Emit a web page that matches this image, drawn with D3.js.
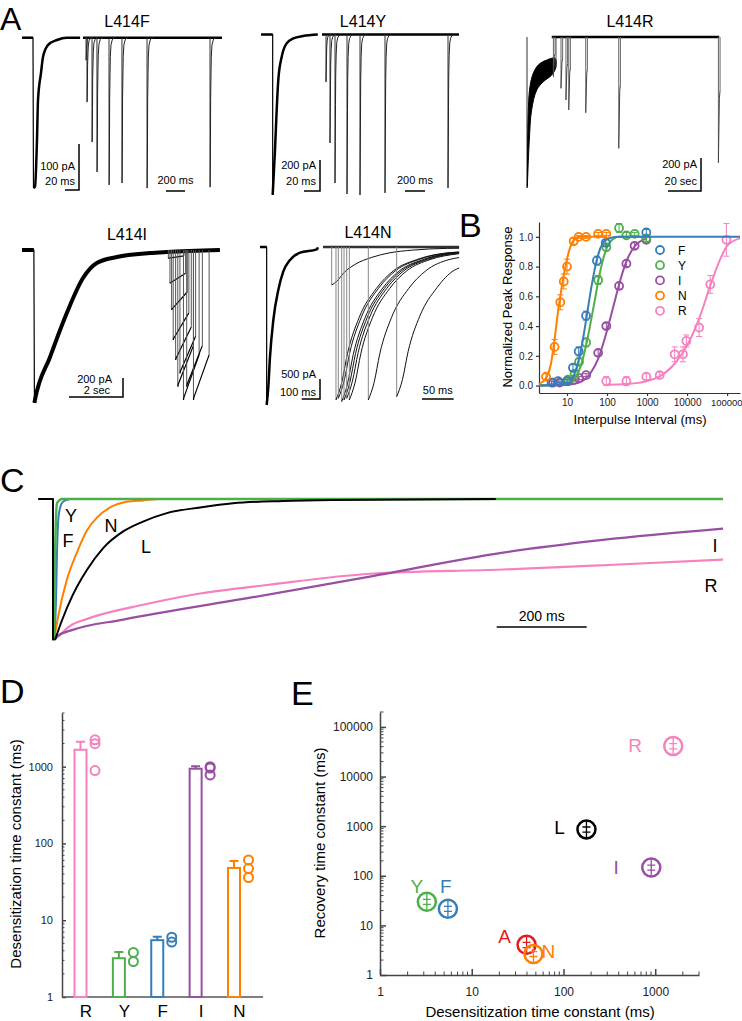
<!DOCTYPE html>
<html>
<head>
<meta charset="utf-8">
<script src="https://cdn.jsdelivr.net/npm/d3@7"></script>
<style>
  body { margin: 0; background: #fff; }
  svg { display: block; }
</style>
</head>
<body>
<svg id="fig" width="742" height="1021"></svg>
<script>
// ---- panel A: sweeps, read through each recording's scale bars (time, current in pA) ----
const fDesens = [[0,0],[15.7,0],[16.4,-327],[18.6,-324],[21.4,-222],[22.9,-135],[27.1,-77],[30,-42],[37,-16],[50,-5],[64,0],[83,0]];
const fPulses = [[32,-49],[42,-140],[95,-227],[147,-292],[274,-320],[410,-316],[674,-327],[1337,-325]];
const yDesens = [[0,0],[14.6,0],[14.6,-1035],[17.5,-745],[19.6,-487],[21.6,-294],[25.9,-143],[32.1,-57],[40.4,-25],[52.5,-10],[71,0]];
const yPulses = [[40,-306],[80,-700],[130,-958],[250,-1029],[380,-1035],[630,-1022],[1260,-990]];
const rUpper = [[0.2,-907],[0.8,-442],[1.8,-301],[3.8,-220],[6.8,-170],[10.9,-144],[17,-129]];
const rLower = [[0.2,-907],[1.4,-624],[2.8,-442],[5.9,-321],[9.9,-271],[15,-230],[17.6,-180]];
const rPulses = [[16,-240],[20.6,-311],[23.6,-382],[25.3,-442],[35.6,-459],[55.6,-675],[116,-762]];
const iDesens = [[0,0],[0.44,0],[0.46,-1610],[0.48,-1579],[1.04,-1126],[1.66,-663],[2.26,-295],[2.77,-137],[3.51,-74],[4.74,-32],[5.36,-21],[7.33,0]];
const iPulses = [[5.42,-88],[5.48,-351],[5.54,-632],[5.60,-947],[5.69,-1158],[5.77,-1439],[5.85,-1298],[5.98,-1579],[6.10,-1439],[6.35,-1579]];
const iSweepLen = 0.58;
const nDesens = [[0,0],[36.4,0],[36.4,-3950],[45.5,-3500],[54.6,-2750],[72.9,-1825],[100,-1075],[127,-617],[164,-325],[219,-142],[310,-58],[317,-10]];
const nPulses = [[13.7,-950],[20.5,-3825],[24.2,-3783],[29.5,-3867],[33.2,-3825],[37.4,-3783],[41.6,-3825],[71.6,-3825],[116.4,-3742]];

// ---- panel B: recovery from desensitization (interval ms, normalized peak, sem) ----
const bF = [[4.1,0.02,0.01],[6,0.03,0.01],[10,0.03,0.01],[14.1,0.12,0.02],[19.6,0.23,0.03],[30,0.47,0.03],[56,0.84,0.03],[93,0.96,0.02],[960,1.03,0.02]];
const bY = [[10.6,0.04,0.01],[15.5,0.08,0.01],[20,0.16,0.02],[30,0.29,0.03],[60,0.71,0.03],[96,0.93,0.02],[200,1.06,0.03],[305,1.01,0.02],[490,1.02,0.01],[960,0.99,0.02]];
const bI = [[4.5,0.02,0.01],[6.6,0.02,0.01],[10.6,0.03,0.01],[15.5,0.04,0.01],[20,0.05,0.01],[30,0.07,0.01],[60,0.22,0.02],[96,0.40,0.02],[200,0.67,0.02],[305,0.82,0.02],[490,0.94,0.02],[960,0.98,0.02]];
const bN = [[3.0,0.06,0.02],[4.9,0.26,0.05],[6.8,0.56,0.05],[8.3,0.70,0.05],[10,0.80,0.05],[14.7,0.97,0.02],[19.6,1.0,0.01],[30,1.0,0.01],[60,1.02,0.01],[96,1.02,0.01]];
const bR = [[96,0.03,0.03],[305,0.03,0.03],[960,0.06,0.02],[2070,0.07,0.02],[4900,0.21,0.05],[7900,0.21,0.05],[9600,0.30,0.04],[20000,0.39,0.06],[38000,0.68,0.06],[96000,0.98,0.11]];
const fitF = [[2,0],[10,0.01],[15,0.07],[20,0.18],[25,0.31],[30,0.44],[40,0.65],[50,0.79],[60,0.88],[80,0.96],[100,0.985],[200,1.0],[210000,1.0]];
const fitY = [[2,0],[10,0.01],[15,0.04],[20,0.1],[30,0.27],[40,0.44],[50,0.58],[60,0.7],[80,0.85],[100,0.93],[150,0.99],[200,1.0],[1000,1.0]];
const fitI = [[2,0],[10,0.005],[20,0.02],[40,0.09],[60,0.18],[80,0.28],[100,0.37],[150,0.55],[200,0.68],[300,0.83],[500,0.94],[1000,0.99]];
const fitN = [[2,0.01],[3,0.05],[4,0.15],[5,0.33],[6,0.5],[7,0.62],[8,0.72],[10,0.85],[12,0.93],[15,0.98],[20,1.0],[30,1.0],[100,1.0]];
const fitR = [[100,0.005],[300,0.01],[1000,0.03],[2000,0.06],[5000,0.15],[10000,0.27],[20000,0.45],[40000,0.69],[70000,0.86],[100000,0.94],[210000,0.99]];

// ---- panel C: normalized currents (ms, I/Ipeak) ----
const cL = [[-33,0],[0,0],[0,-1],[4.4,-1],[20,-0.86],[44,-0.68],[76,-0.50],[111,-0.35],[156,-0.23],[200,-0.16],[253,-0.10],[327,-0.06],[400,-0.03],[511,-0.014],[622,-0.007],[984,0]];
const cY = [[0,0],[2.2,-1],[4.4,-0.43],[8.9,-0.03],[20,0],[1489,0]];
const cF = [[2.2,-1],[6.7,-0.72],[8.9,-0.38],[13.3,-0.1],[22,-0.02],[38,0]];
const cN = [[2.2,-1],[11,-0.84],[31,-0.57],[53,-0.38],[76,-0.22],[98,-0.13],[127,-0.06],[164,-0.02],[200,-0.01],[238,0],[300,0]];
const cI = [[2.2,-1],[11,-0.97],[42,-0.93],[156,-0.855],[438,-0.70],[704,-0.55],[1000,-0.38],[1222,-0.29],[1489,-0.21]];
const cR = [[2.2,-1],[20,-0.95],[38,-0.90],[76,-0.85],[200,-0.75],[327,-0.67],[476,-0.61],[704,-0.53],[1000,-0.50],[1222,-0.47],[1489,-0.43]];

// ---- panel D: desensitization tau (ms) ----
const dCats = ['R','Y','F','I','N'];
const dMean = [1660, 3.2, 5.5, 940, 48];
const dSem = [450, 0.65, 0.6, 75, 11];
const dCells = [[2240,1990,890],[3.8,2.9],[6.0,5.2],[1000,960,780],[61,47,36]];

// ---- panel E: recovery tau vs desensitization tau (ms) ----
const eKeys = ['R','L','I','Y','F','A','N'];
const eDes = [1570, 178, 905, 3.24, 5.5, 39.6, 47];
const eRec = [41200, 861, 147, 30, 21.7, 4.05, 2.66];
const eRecSem = [5000, 100, 17, 3.5, 2.5, 0.5, 0.3];

const COL = {R:'#f781bf', Y:'#4daf4a', F:'#377eb8', I:'#984ea3', N:'#ff7f00', A:'#e41a1c', L:'#000000'};
const FONT = '"Liberation Sans", Arial, sans-serif';
const svg = d3.select('#fig');

function text(x, y, s, size, o = {}) {
  return svg.append('text').attr('x', x).attr('y', y).text(s)
    .attr('font-family', FONT).attr('font-size', size)
    .attr('text-anchor', o.anchor || 'start').attr('fill', o.color || '#000')
    .attr('transform', o.rotate ? `rotate(-90,${x},${y})` : null);
}
function draw(g, pts, sx, sy, w, col, curve) {
  return g.append('path')
    .attr('d', d3.line().x(d => sx(d[0])).y(d => sy(d[1])).curve(curve || d3.curveLinear)(pts))
    .attr('fill', 'none').attr('stroke', col || '#000').attr('stroke-width', w)
    .attr('stroke-linejoin', 'round');
}
// local (time, pA) frame: kx px per time unit, ky px per pA
function frame(x0, y0, kx, ky) {
  return {x: d3.scaleLinear().domain([0, 1]).range([x0, x0 + kx]),
          y: d3.scaleLinear().domain([0, -1]).range([y0, y0 + ky])};
}
function shapeOf(desens) {
  const k = d3.minIndex(desens, d => d[1]);
  const [tp, ip] = desens[k];
  return desens.slice(k).map(d => [d[0] - tp, d[1] / ip]);
}
function shapeAt(shape, dt) {
  for (let i = 1; i < shape.length; i++) {
    if (shape[i][0] >= dt) {
      const a = shape[i - 1], b = shape[i];
      return a[1] + (b[1] - a[1]) * (dt - a[0]) / (b[0] - a[0] || 1);
    }
  }
  return shape[shape.length - 1][1];
}
// one recovery sweep: vertical activation then the desensitization decay
function pulse(g, fr, t0, amp, shape, opt) {
  const lim = Math.min(opt.dur ?? Infinity, opt.tEnd - t0, shape[shape.length - 1][0]);
  const decay = shape.filter(d => d[0] < lim).map(d => [t0 + d[0], amp * d[1]]);
  decay.push([t0 + lim, amp * shapeAt(shape, lim)]);
  draw(g, [[t0, 0], [t0, amp]], fr.x, fr.y, opt.wDrop || 1, opt.cDrop || '#333');
  draw(g, decay, fr.x, fr.y, opt.w || 1, opt.col || '#222', opt.curve);
  if (opt.dur != null || lim === shape[shape.length - 1][0]) {
    draw(g, [decay[decay.length - 1], [t0 + lim, 0]], fr.x, fr.y, 1, opt.cDrop || '#333');
  }
}
function mainSweep(g, fr, pts, wThick) {
  const k = d3.minIndex(pts, d => d[1]);
  draw(g, pts.slice(0, k + 1), fr.x, fr.y, 1.2);
  draw(g, pts.slice(0, k), fr.x, fr.y, wThick);
  draw(g, pts.slice(k), fr.x, fr.y, wThick, '#000', d3.curveMonotoneX);
}
function lBar(g, fr, xr, yb, amp, dt) {
  const v = Math.abs(fr.y(-amp) - fr.y(0)), h = Math.abs(fr.x(dt) - fr.x(0));
  g.append('path').attr('d', `M${xr - h},${yb}H${xr}V${yb - v}`)
    .attr('fill', 'none').attr('stroke', '#000').attr('stroke-width', 1.5);
}
function hBar(g, fr, xl, yb, dt) {
  const h = Math.abs(fr.x(dt) - fr.x(0));
  g.append('path').attr('d', `M${xl},${yb}H${xl + h}`).attr('stroke', '#000').attr('stroke-width', 1.5);
  return xl + h / 2;
}

// panel letters
[['A', 0, 30, 32], ['B', 459, 237, 34], ['C', 0, 492, 34], ['D', 0, 703, 34], ['E', 291, 705, 34]]
  .forEach(([s, x, y, fs]) => text(x, y, s, fs));

// ================= panel A =================
const gA = svg.append('g');
// L414F
{
  const L = frame(22, 37.7, 0.7, 0.46), R = frame(83, 37.7, 0.095, 0.46);
  text(127, 27, 'L414F', 16, {anchor: 'middle'});
  mainSweep(gA, L, fDesens, 2.5);
  draw(gA, [[0, 0], [1463, 0]], R.x, R.y, 2.5);
  const sh = shapeOf(fDesens);
  fPulses.forEach(([t, a]) => pulse(gA, R, t, a, sh, {tEnd: 1463}));
  lBar(gA, L, 79, 190, 100, 20);
  text(75, 170, '100 pA', 11, {anchor: 'end'});
  text(75, 185, '20 ms', 11, {anchor: 'end'});
  const c = hBar(gA, R, 166, 191, 200);
  text(c, 184, '200 ms', 11, {anchor: 'middle'});
}
// L414Y
{
  const L = frame(261, 34.5, 0.8, 0.155), R = frame(322, 34.5, 0.1, 0.155);
  text(363, 27, 'L414Y', 16, {anchor: 'middle'});
  mainSweep(gA, L, yDesens, 2.5);
  draw(gA, [[0, 0], [1370, 0]], R.x, R.y, 2.5);
  const sh = shapeOf(yDesens);
  yPulses.forEach(([t, a]) => pulse(gA, R, t, a, sh, {tEnd: 1370}));
  lBar(gA, L, 320, 191, 200, 20);
  text(316, 169, '200 pA', 11, {anchor: 'end'});
  text(316, 185, '20 ms', 11, {anchor: 'end'});
  const c = hBar(gA, R, 405, 191, 200);
  text(c, 184, '200 ms', 11, {anchor: 'middle'});
}
// L414R
{
  const S = frame(527, 37, 1.65, 0.165);
  text(630, 27, 'L414R', 16, {anchor: 'middle'});
  draw(gA, [[0, 0], [0, -915], rUpper[0]], S.x, S.y, 1, '#333');
  gA.append('path')
    .attr('d', d3.line().x(d => S.x(d[0])).y(d => S.y(d[1])).curve(d3.curveCatmullRomClosed)(rUpper.concat(rLower.slice().reverse())))
    .attr('fill', '#000').attr('stroke', '#000').attr('stroke-width', 1);
  draw(gA, [rLower[rLower.length - 1], [17.6, 0]], S.x, S.y, 1, '#555');
  draw(gA, [[15, 0], [116.5, 0]], S.x, S.y, 2.5);
  const sh = shapeOf(rUpper);
  rPulses.forEach(([t, a]) => pulse(gA, S, t, a, sh, {tEnd: 117, dur: 1, cDrop: '#666', col: '#444'}));
  lBar(gA, S, 701, 191, 200, 20);
  text(697, 168, '200 pA', 11, {anchor: 'end'});
  text(697, 185, '20 sec', 11, {anchor: 'end'});
}
// L414I
{
  const S = frame(22, 250, 27, 0.095);
  text(127, 240, 'L414I', 16, {anchor: 'middle'});
  mainSweep(gA, S, iDesens, 4);
  const sh = shapeOf(iDesens);
  iPulses.forEach(([t, a]) => pulse(gA, S, t, a, sh, {tEnd: 7.33, dur: iSweepLen, w: 1.2, col: '#000', cDrop: '#555'}));
  lBar(gA, S, 123, 397, 200, 2);
  text(112, 383, '200 pA', 11, {anchor: 'end'});
  text(110, 394, '2 sec', 11, {anchor: 'end'});
}
// L414N
{
  const L = frame(260, 247, 0.183, 0.04), R = frame(323, 247, 0.633, 0.04);
  text(368, 238, 'L414N', 16, {anchor: 'middle'});
  mainSweep(gA, L, nDesens, 2.5);
  draw(gA, [[0, 0], [215, 0]], R.x, R.y, 2.5, '#333');
  const sh = shapeOf(nDesens);
  nPulses.forEach(([t, a]) => pulse(gA, R, t, a, sh, {tEnd: 215, cDrop: '#888', col: '#111', curve: d3.curveMonotoneX}));
  lBar(gA, L, 320, 399, 500, 100);
  text(316, 378, '500 pA', 11, {anchor: 'end'});
  text(316, 396, '100 ms', 11, {anchor: 'end'});
  const c = hBar(gA, R, 422, 399, 50);
  text(c, 394, '50 ms', 11, {anchor: 'middle'});
}

// ================= panel B =================
const gB = svg.append('g');
const xB = d3.scaleLog().domain([2, 2.1e5]).range([539, 740]);
const yB = d3.scaleLinear().domain([-0.05, 1.1]).range([393, 222]);
gB.append('g').attr('transform', 'translate(0,393)')
  .call(d3.axisBottom(xB).tickValues([10, 100, 1000, 10000, 100000]).tickFormat(d3.format('d')).tickSize(3).tickSizeOuter(0));
gB.append('g').attr('transform', 'translate(539,0)')
  .call(d3.axisLeft(yB).tickValues([0, 0.2, 0.4, 0.6, 0.8, 1.0]).tickFormat(d3.format('.1f')).tickSize(3).tickSizeOuter(0));
gB.selectAll('.tick text').attr('font-family', FONT).attr('font-size', 10).attr('fill', '#222');
gB.selectAll('.tick text').filter(d => d === 100000).attr('font-size', 9.5).attr('text-anchor', 'end').attr('dx', 15);
gB.selectAll('.domain, .tick line').attr('stroke', '#333').attr('stroke-width', 1.2);
const bSeries = [['F', bF, fitF], ['Y', bY, fitY], ['I', bI, fitI], ['N', bN, fitN], ['R', bR, fitR]];
[bSeries[4], bSeries[2], bSeries[1], bSeries[0], bSeries[3]].forEach(([k, pts, fit]) => {
  draw(gB, fit, xB, yB, 2, COL[k], d3.curveMonotoneX);
  pts.forEach(([x, y, e]) => {
    const cx = xB(x);
    gB.append('path').attr('d', `M${cx},${yB(y - e)}V${yB(y + e)}M${cx - 3},${yB(y + e)}H${cx + 3}M${cx - 3},${yB(y - e)}H${cx + 3}`)
      .attr('stroke', COL[k]).attr('stroke-width', 1);
    gB.append('circle').attr('cx', cx).attr('cy', yB(y)).attr('r', 4)
      .attr('fill', 'none').attr('stroke', COL[k]).attr('stroke-width', 1.8);
  });
});
bSeries.forEach(([k], i) => {
  gB.append('circle').attr('cx', 660).attr('cy', 250 + i * 15.2).attr('r', 4)
    .attr('fill', 'none').attr('stroke', COL[k]).attr('stroke-width', 1.8);
  text(678, 254.5 + i * 15.2, k, 12);
});
text(512, 307, 'Normalized Peak Response', 13, {anchor: 'middle', rotate: true});
text(640, 424, 'Interpulse Interval (ms)', 13, {anchor: 'middle'});

// ================= panel C =================
const gC = svg.append('g');
const xC = d3.scaleLinear().domain([0, 200]).range([53, 143]);
const yC = d3.scaleLinear().domain([-1, 0]).range([640, 499]);
draw(gC, cR, xC, yC, 2.2, COL.R, d3.curveMonotoneX);
draw(gC, cI, xC, yC, 2.2, COL.I, d3.curveMonotoneX);
draw(gC, cN, xC, yC, 2, COL.N, d3.curveMonotoneX);
draw(gC, cF, xC, yC, 2, COL.F, d3.curveMonotoneX);
draw(gC, [[0, 0], [0, -1], cY[1]], xC, yC, 2, COL.Y);
draw(gC, cY.slice(1), xC, yC, 2.5, COL.Y, d3.curveMonotoneX);
draw(gC, cL.slice(0, 3), xC, yC, 2, COL.L);
draw(gC, cL.slice(3), xC, yC, 2, COL.L, d3.curveMonotoneX);
[['Y', 71, 522], ['F', 68, 547], ['N', 111, 532], ['L', 146, 553], ['I', 715, 552], ['R', 711, 592]]
  .forEach(([s, x, y]) => text(x, y, s, 18, {anchor: 'middle'}));
gC.append('path').attr('d', `M${xC(986)},627H${xC(1186)}`).attr('stroke', '#000').attr('stroke-width', 1.5);
text(xC(1086), 621, '200 ms', 14, {anchor: 'middle'});

// ================= panel D =================
const gD = svg.append('g');
const xD = d3.scalePoint().domain(dCats).range([80.5, 234]);
const yD = d3.scaleLog().domain([1, 5000]).range([997, 713]);
gD.append('g').attr('transform', 'translate(62,0)')
  .call(d3.axisLeft(yD).tickValues([1, 10, 100, 1000]).tickFormat(d3.format('d')).tickSize(-4).tickPadding(9).tickSizeOuter(0));
gD.selectAll('.tick text').attr('font-family', FONT).attr('font-size', 11).attr('fill', '#222');
gD.selectAll('.domain, .tick line').attr('stroke', '#444').attr('stroke-width', 1.5);
gD.selectAll('line.minor').data(yD.ticks().filter(v => ![1, 10, 100, 1000].includes(v)))
  .join('line').attr('x1', 62).attr('x2', 64.5).attr('y1', d => yD(d)).attr('y2', d => yD(d))
  .attr('stroke', '#444').attr('stroke-width', 1);
gD.append('line').attr('x1', 62).attr('x2', 263).attr('y1', 997).attr('y2', 997).attr('stroke', '#555').attr('stroke-width', 1.5);
dCats.forEach((k, i) => {
  const cx = xD(k), top = yD(dMean[i]), eb = yD(dMean[i] + dSem[i]);
  gD.append('rect').attr('x', cx - 6).attr('y', top).attr('width', 12).attr('height', 997 - top)
    .attr('fill', '#fff').attr('stroke', COL[k]).attr('stroke-width', 2);
  gD.append('path').attr('d', `M${cx},${top}V${eb}M${cx - 4.5},${eb}H${cx + 4.5}`)
    .attr('stroke', COL[k]).attr('stroke-width', 2);
  dCells[i].forEach(v => gD.append('circle').attr('cx', cx + 14.5).attr('cy', yD(v)).attr('r', 4.5)
    .attr('fill', 'none').attr('stroke', COL[k]).attr('stroke-width', 2));
  text(cx + 5.5, 1017, k, 17, {anchor: 'middle'});
});
text(21, 854, 'Desensitization time constant (ms)', 15, {anchor: 'middle', rotate: true});

// ================= panel E =================
const gE = svg.append('g');
const xE = d3.scaleLog().domain([1, 3000]).range([380, 699]);
const yE = d3.scaleLog().domain([1, 2e5]).range([975, 712]);
gE.append('g').attr('transform', 'translate(0,975)')
  .call(d3.axisBottom(xE).tickValues([1, 10, 100, 1000]).tickFormat(d3.format('d')).tickSize(-6).tickPadding(12).tickSizeOuter(0));
gE.append('g').attr('transform', 'translate(380,0)')
  .call(d3.axisLeft(yE).tickValues([1, 10, 100, 1000, 10000, 100000]).tickFormat(d3.format('d')).tickSize(-6).tickPadding(7).tickSizeOuter(0));
gE.selectAll('.tick text').attr('font-family', FONT).attr('font-size', 12).attr('fill', '#222');
gE.selectAll('.domain, .tick line').attr('stroke', '#444').attr('stroke-width', 1.5);
gE.selectAll('line.mx').data(xE.ticks().filter(v => ![1, 10, 100, 1000].includes(v)))
  .join('line').attr('x1', d => xE(d)).attr('x2', d => xE(d)).attr('y1', 975).attr('y2', 971.5)
  .attr('stroke', '#444').attr('stroke-width', 1);
gE.selectAll('line.my').data(yE.ticks().filter(v => ![1, 10, 100, 1000, 10000, 100000].includes(v)))
  .join('line').attr('x1', 380).attr('x2', 383.5).attr('y1', d => yE(d)).attr('y2', d => yE(d))
  .attr('stroke', '#444').attr('stroke-width', 1);
const eLabelOff = {R: [-38, 6], L: [-27, 5], I: [-35, 7], Y: [-10, -9], F: [-2, -16], A: [-22, -2], N: [15, 4]};
eKeys.forEach((k, i) => {
  const cx = xE(eDes[i]), cy = yE(eRec[i]);
  const hi = yE(eRec[i] + eRecSem[i]), lo = yE(eRec[i] - eRecSem[i]);
  gE.append('circle').attr('cx', cx).attr('cy', cy).attr('r', 9)
    .attr('fill', '#fff').attr('fill-opacity', 0.01).attr('stroke', COL[k]).attr('stroke-width', 2.5);
  gE.append('path').attr('d', `M${cx},${cy - 8}V${cy + 8}M${cx - 4},${hi}H${cx + 4}M${cx - 4},${lo}H${cx + 4}`)
    .attr('stroke', COL[k]).attr('stroke-width', 1.3);
  text(cx + eLabelOff[k][0], cy + eLabelOff[k][1], k, 19, {anchor: 'middle', color: COL[k]});
});
text(540, 1017, 'Desensitization time constant (ms)', 15, {anchor: 'middle'});
text(325, 843, 'Recovery time constant (ms)', 15, {anchor: 'middle', rotate: true});
</script>
</body>
</html>
